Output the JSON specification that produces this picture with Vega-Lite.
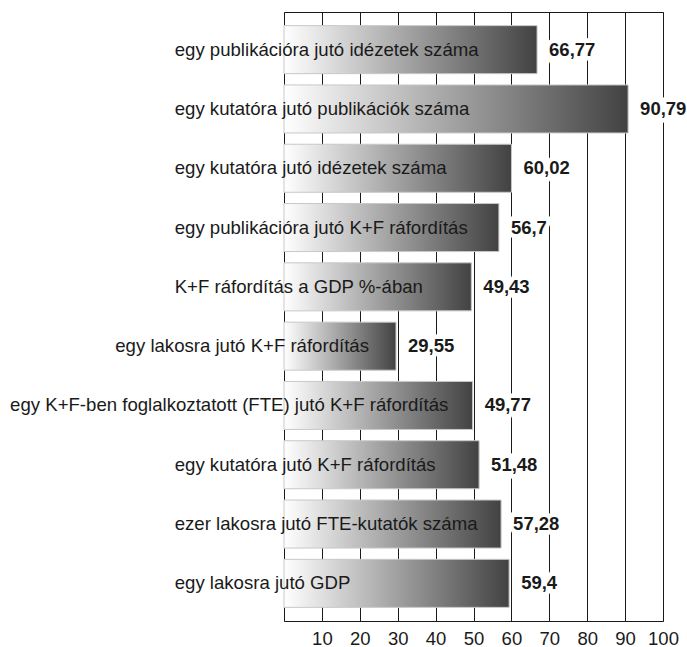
{
  "$schema": "https://vega.github.io/schema/vega-lite/v6.json",
  "autosize": {"type": "none"},
  "padding": {"left": 284, "top": 12, "right": 24, "bottom": 26},
  "width": 379,
  "height": 609,
  "background": "white",
  "data": {
    "values": [
      {"label": "egy publikációra jutó idézetek száma", "value": 66.77},
      {"label": "egy kutatóra jutó publikációk száma", "value": 90.79},
      {"label": "egy kutatóra jutó idézetek száma", "value": 60.02},
      {"label": "egy publikációra jutó K+F ráfordítás", "value": 56.7},
      {"label": "K+F ráfordítás a GDP %-ában", "value": 49.43},
      {"label": "egy lakosra jutó K+F ráfordítás", "value": 29.55},
      {"label": "egy K+F-ben foglalkoztatott (FTE) jutó K+F ráfordítás", "value": 49.77},
      {"label": "egy kutatóra jutó K+F ráfordítás", "value": 51.48},
      {"label": "ezer lakosra jutó FTE-kutatók száma", "value": 57.28},
      {"label": "egy lakosra jutó GDP", "value": 59.4}
    ]
  },
  "transform": [
    {"calculate": "min(-28.84, datum.value - 6.5 - length(datum.label) * 2.18)", "as": "labelX"},
    {"calculate": "replace(toString(datum.value), '.', ',')", "as": "valueText"}
  ],
  "encoding": {
    "y": {
      "field": "label",
      "type": "nominal",
      "sort": null,
      "scale": {"paddingInner": 0.19, "paddingOuter": 0.23},
      "axis": null
    }
  },
  "layer": [
    {
      "mark": {
        "type": "bar",
        "stroke": "#c8c8c8",
        "strokeWidth": 1,
        "fill": {
          "x1": 0, "y1": 0, "x2": 1, "y2": 0,
          "gradient": "linear",
          "stops": [
            {"offset": 0, "color": "#ffffff"},
            {"offset": 1, "color": "#424242"}
          ]
        }
      },
      "encoding": {
        "x": {
          "field": "value",
          "type": "quantitative",
          "scale": {"domain": [0, 100], "nice": false, "zero": true},
          "axis": {"values": [0, 10, 20, 30, 40, 50, 60, 70, 80, 90, 100], "title": null}
        }
      }
    },
    {
      "mark": {
        "type": "text",
        "align": "left",
        "baseline": "middle",
        "font": "Liberation Sans",
        "fontSize": 18.6,
        "color": "#1a1a1a"
      },
      "encoding": {
        "x": {"field": "labelX", "type": "quantitative", "axis": {"values": [0, 10, 20, 30, 40, 50, 60, 70, 80, 90, 100], "title": null}},
        "text": {"field": "label"}
      }
    },
    {
      "mark": {
        "type": "text",
        "align": "left",
        "baseline": "middle",
        "dx": 12,
        "font": "Liberation Sans",
        "fontSize": 18.5,
        "fontWeight": "bold",
        "fill": "white",
        "stroke": "white",
        "strokeWidth": 9,
        "strokeJoin": "miter"
      },
      "encoding": {
        "x": {"field": "value", "type": "quantitative", "axis": {"values": [0, 10, 20, 30, 40, 50, 60, 70, 80, 90, 100], "title": null}},
        "text": {"field": "valueText"}
      }
    },
    {
      "mark": {
        "type": "text",
        "align": "left",
        "baseline": "middle",
        "dx": 12,
        "font": "Liberation Sans",
        "fontSize": 18.5,
        "fontWeight": "bold",
        "color": "#1a1a1a"
      },
      "encoding": {
        "x": {"field": "value", "type": "quantitative", "axis": {"values": [0, 10, 20, 30, 40, 50, 60, 70, 80, 90, 100], "title": null}},
        "text": {"field": "valueText"}
      }
    }
  ],
  "config": {
    "view": {"stroke": "#1a1a1a", "strokeWidth": 1},
    "axisX": {
      "labelExpr": "datum.value == 0 ? '' : datum.label",
      "grid": true,
      "gridColor": "#1a1a1a",
      "gridWidth": 1,
      "gridOpacity": 1,
      "domain": false,
      "ticks": false,
      "tickSize": 0,
      "labelPadding": 8,
      "labelFont": "Liberation Sans",
      "labelFontSize": 18.5,
      "labelColor": "#1a1a1a",
      "labelFlush": false,
      "labelOverlap": false
    }
  }
}
